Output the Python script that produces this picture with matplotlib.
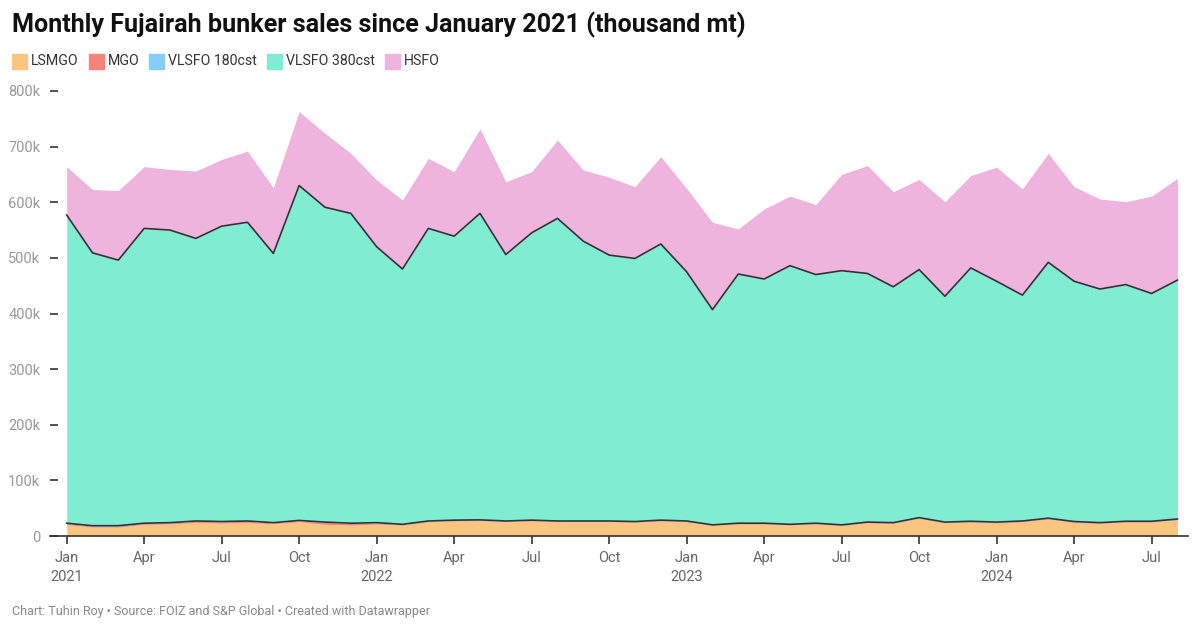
import numpy as np
import matplotlib
matplotlib.use('Agg')
import matplotlib.pyplot as plt
from matplotlib.patches import Rectangle

plt.rcParams['font.family'] = ['Roboto', 'DejaVu Sans']

# monthly sales, thousand mt, Jan 2021 .. Aug 2024
months = ['Jan', 'Feb', 'Mar', 'Apr', 'May', 'Jun', 'Jul', 'Aug', 'Sep', 'Oct', 'Nov', 'Dec']
years = [2021, 2022, 2023, 2024]

lsmgo = [20.5, 16, 16, 21, 21.5, 24.5, 23, 24, 22, 25.5, 21, 19.5,
         21.5, 19.5, 25.5, 27, 27.5, 25.5, 27, 25.5, 25.5, 25.5, 24.5, 27,
         25.5, 19, 21.5, 21.5, 19.5, 21.5, 18.5, 23.5, 22.5, 31.5, 23.5, 25,
         23.5, 25.5, 30.5, 24.5, 22.5, 25, 25, 29]
mgo = [2, 2, 2, 1.5, 2, 2, 2.5, 2.5, 1.5, 2, 3.5, 3,
       2, 1, 1, 1, 1, 1, 1, 1, 1, 1, 1, 1,
       1, 0.5, 1, 1, 1, 1, 1, 1, 1, 1, 1, 1,
       1, 1, 1, 1, 1, 1, 1, 1]
vlsfo180 = [0.5, 0.5, 0.5, 0.5, 0.5, 0.5, 0.5, 0.5, 0.5, 0.5, 0.5, 0.5,
            0.5, 0.5, 0.5, 0.5, 0.5, 0.5, 0.5, 0.5, 0.5, 0.5, 0.5, 0.5,
            0.5, 0.5, 0.5, 0.5, 0.5, 0.5, 0.5, 0.5, 0.5, 0.5, 0.5, 0.5,
            0.5, 0.5, 0.5, 0.5, 0.5, 0.5, 0.5, 0.5]
vlsfo380 = [554, 490.5, 477.5, 530, 526, 508, 531, 537, 484, 602, 566, 557,
            496, 459, 526, 510.5, 551, 479, 516.5, 544, 503, 478, 473, 496.5,
            448, 387, 448, 439, 465, 447, 457, 447, 424, 446, 406, 455.5,
            433, 406, 460, 432, 420, 425.5, 409.5, 429.5]
hsfo = [87, 114, 125, 111, 109, 121, 120, 128, 118, 133, 133, 108,
        120, 124, 126, 116, 152, 131, 110, 141, 128, 140, 129, 157,
        150, 157, 81, 126, 125, 126, 173, 194, 171, 162, 170, 166,
        205, 191, 196, 170, 162, 149, 175, 183]

names = ['LSMGO', 'MGO', 'VLSFO 180cst', 'VLSFO 380cst', 'HSFO']
colors = ['#fbc47f', '#f3837b', '#86cdfa', '#80edd3', '#eeb4de']

x = np.arange(len(lsmgo))
stack = np.vstack([lsmgo, mgo, vlsfo180, vlsfo380, hsfo])
cum = np.cumsum(stack, axis=0)

fig = plt.figure(figsize=(12, 6.32), dpi=100)
ax = fig.add_axes([50 / 1200, 96 / 632, 1138 / 1200, 445 / 632])

base = np.zeros(len(x))
for i in range(len(names)):
    ax.fill_between(x, base, cum[i], color=colors[i], lw=0)
    base = cum[i]
# dark outlines at both edges of the VLSFO 380cst band
ax.plot(x, cum[2], color='#333333', lw=1.2)
ax.plot(x, cum[3], color='#333333', lw=1.2)

ax.set_xlim(-0.646, 43.41)
ax.set_ylim(0, 800)
for s in ['top', 'right', 'left']:
    ax.spines[s].set_visible(False)
ax.spines['bottom'].set_color('#333333')
ax.spines['bottom'].set_linewidth(1.2)

yt = [0, 100, 200, 300, 400, 500, 600, 700, 800]
ax.set_yticks(yt)
ax.set_yticklabels(['0' if v == 0 else '{}k'.format(v) for v in yt])
ax.tick_params(axis='y', direction='in', length=6, width=1.2, color='#333333',
               labelcolor='#999999', labelsize=10.5, pad=7)

xt = [i for i in x if i % 3 == 0]
xl = []
for i in xt:
    m = months[i % 12]
    if m == 'Jan':
        xl.append('{}\n{}'.format(m, years[i // 12]))
    else:
        xl.append(m)
ax.set_xticks(xt)
ax.set_xticklabels(xl, linespacing=1.45)
ax.tick_params(axis='x', direction='out', length=6, width=1.2, color='#333333',
               labelcolor='#666666', labelsize=10.5, pad=5)

fig.text(12 / 1200, 1 - 25 / 632, 'Monthly Fujairah bunker sales since January 2021 (thousand mt)',
         fontsize=18.1, fontweight='bold', color='#111111', va='center', ha='left')

# legend row
lx = 12
for name, c in zip(names, colors):
    fig.patches.append(Rectangle((lx / 1200, 1 - 69 / 632), 15 / 1200, 15 / 632,
                                 transform=fig.transFigure, color=c))
    t = fig.text((lx + 19) / 1200, 1 - 61 / 632, name, fontsize=10.2, color='#333333',
                 va='center', ha='left')
    fig.canvas.draw()
    bb = t.get_window_extent()
    lx = bb.x1 + 10

fig.text(12 / 1200, 1 - 612 / 632, 'Chart: Tuhin Roy \u2022 Source: FOIZ and S&P Global \u2022 Created with Datawrapper',
         fontsize=9, color='#888888', va='center', ha='left')

fig.savefig('out.png', dpi=100)
